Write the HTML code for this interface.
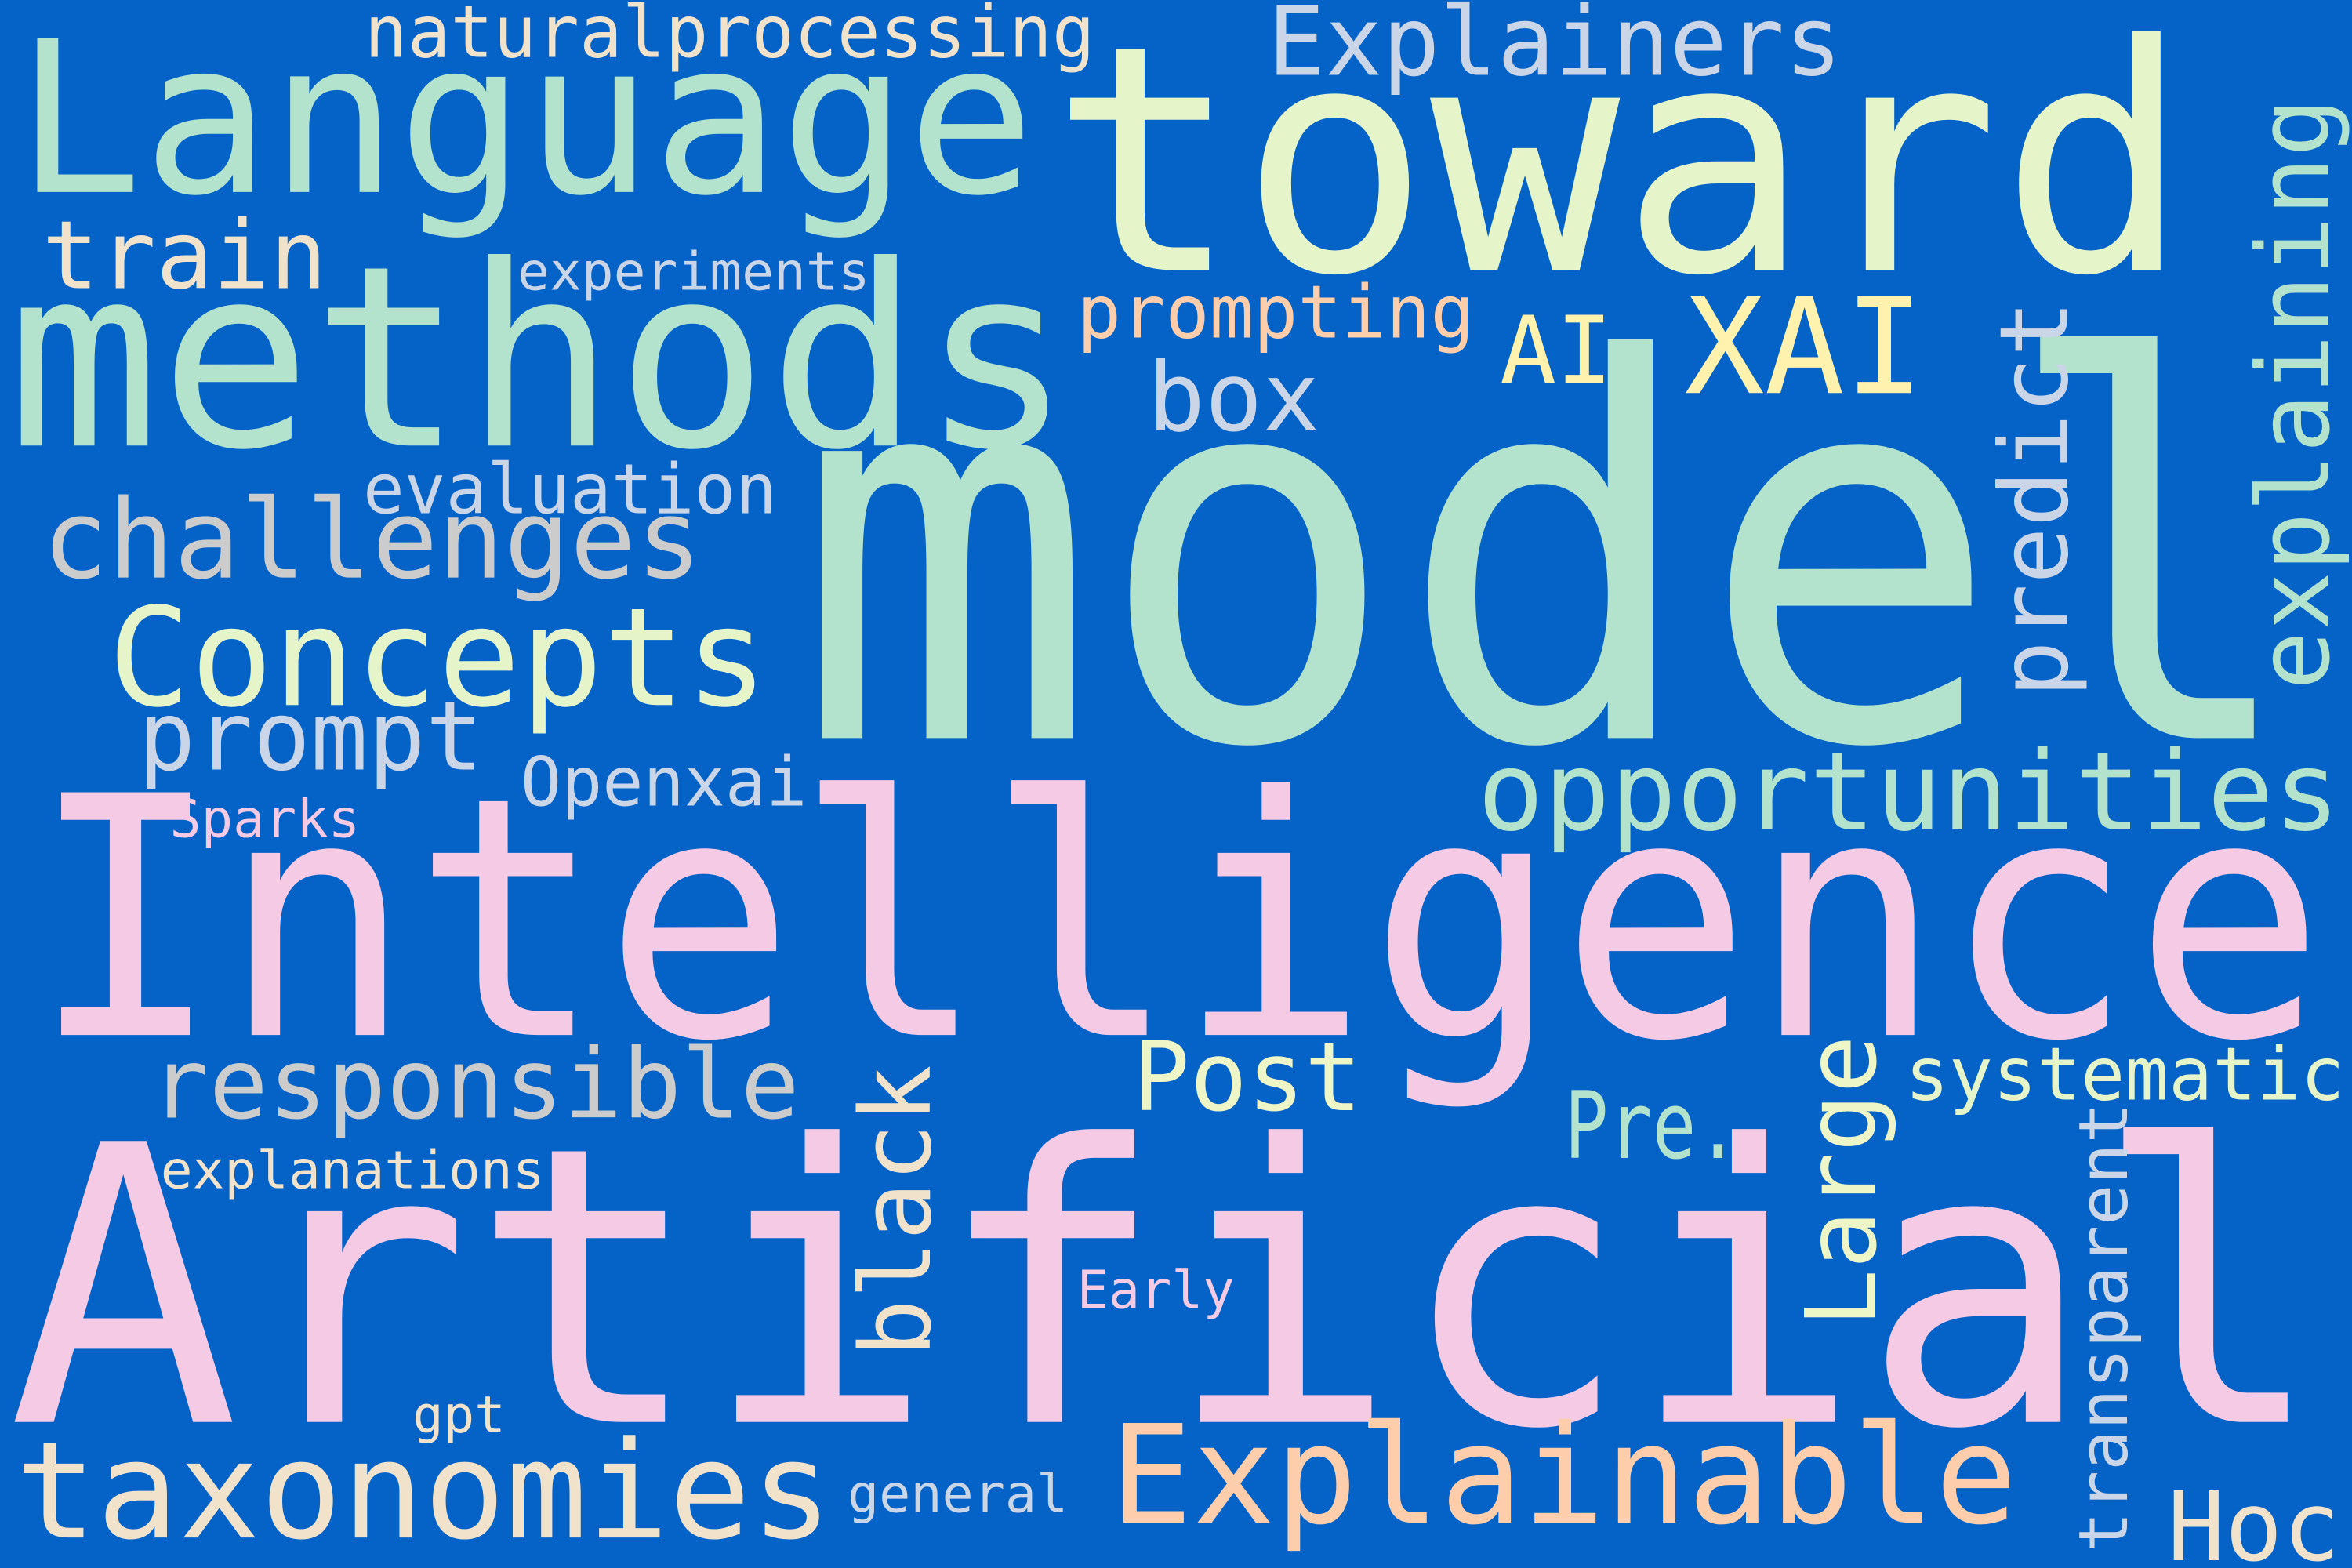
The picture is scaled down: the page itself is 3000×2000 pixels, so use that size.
<!DOCTYPE html>
<html><head><meta charset="utf-8">
<style>
html,body{margin:0;padding:0;background:#0563c8;}
svg{display:block;}
text{font-family:"DejaVu Sans Mono","Liberation Mono",monospace;}
</style></head>
<body>
<svg id="cloud" width="3000" height="2000" viewBox="0 0 1568 1045.33" preserveAspectRatio="none" xmlns="http://www.w3.org/2000/svg">
<rect x="0" y="0" width="1568" height="1046" fill="#0563c8"/>
</svg>
<script>
const words = ["model","Intelligence","Artificial","toward","Language","methods","naturalprocessing","Explainers","train","experiments","prompting","AI","XAI","box","evaluation","challenges","Concepts","prompt","Openxai","Sparks","opportunities","predict","explaining","responsible","black","Post","Pre.","Large","systematic","transparent","explanations","Early","gpt","taxonomies","general","Explainable","Hoc"];
const wx = [530,20,5,700,10,5,243,845,28,345,718,1000,1123,765,242,28,72,92,347,113,985,1378,1552,100,620,755,1043,1250,1270,1418,107,718,275,10,565,740,1445];
const wy = [492,690,948,180,128,297,38,50,192,193,225,255,262,287,342,385,470,513,537,558,553,465,460,745,905,740,772,885,733,1035,792,872,955,1025,1008,1015,1040];
const wlen = [1005,1530,1545,760,680,710,487,383,190,235,265,75,160,115,276,440,440,230,191,127,575,265,395,433,195,153,117,195,293,300,256,105,62,545,147,605,115];
const wsize = [350,222,257,210,141,168,48,64,63,35,49,62,89,64,46,73,91,64,45,35,73,63,66,65,65,64,62,65,49,45,35,35,34,90,35,91,64];
const wrot = [0,0,0,0,0,0,0,0,0,0,0,0,0,0,0,0,0,0,0,0,0,1,1,0,1,0,0,1,0,1,0,0,0,0,0,0,0];
const wcol = ["#b3e2cd","#f4cae4","#f4cae4","#e6f5c9","#b3e2cd","#b3e2cd","#f1e2cc","#cbd5e8","#f1e2cc","#cbd5e8","#fdcdac","#fff2ae","#fff2ae","#cbd5e8","#cbd5e8","#cccccc","#e6f5c9","#cbd5e8","#cbd5e8","#f4cae4","#b3e2cd","#cbd5e8","#b3e2cd","#cccccc","#f1e2cc","#eef5c6","#b3e2cd","#eef5c6","#e6f5c9","#cbd5e8","#f1e2cc","#f4cae4","#f1e2cc","#f1e2cc","#cbd5e8","#fdcdac","#f1e2cc"];
const svg = document.getElementById('cloud');
const NS = "http://www.w3.org/2000/svg";
for (let i = 0; i < words.length; i++) {
  const t = document.createElementNS(NS, 'text');
  
  
  t.setAttribute('x', wx[i]);
  t.setAttribute('y', wy[i]);
  t.setAttribute('font-size', wsize[i]);
  t.setAttribute('fill', wcol[i]);
  t.setAttribute('textLength', wlen[i]);
  t.setAttribute('lengthAdjust', 'spacingAndGlyphs');
  if (wrot[i]) {
    t.setAttribute('x', 0);
    t.setAttribute('y', 0);
    t.setAttribute('transform', 'translate(' + wx[i] + ',' + wy[i] + ') rotate(-90)');
  }
  t.textContent = words[i];
  svg.appendChild(t);
}
</script>
</body></html>
